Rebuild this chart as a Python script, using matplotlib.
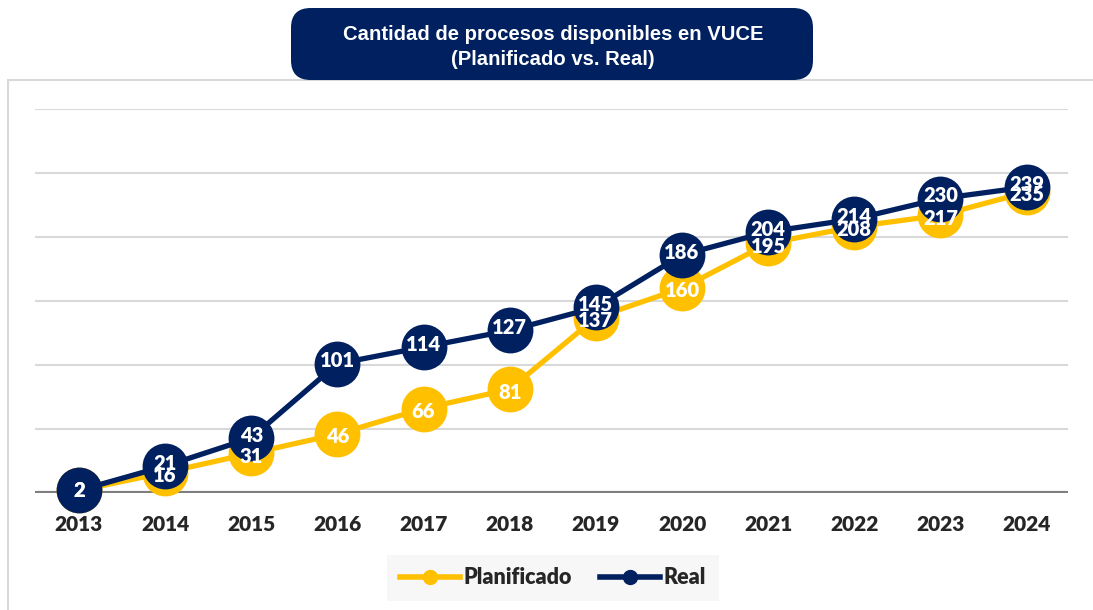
import matplotlib
matplotlib.use('Agg')
import matplotlib.pyplot as plt
from matplotlib.patches import FancyBboxPatch, Rectangle
from matplotlib.lines import Line2D

# ─── Data ────────────────────────────────────────────────────────────────
years = [2013, 2014, 2015, 2016, 2017, 2018, 2019, 2020, 2021, 2022, 2023, 2024]
planificado = [2, 16, 31, 46, 66, 81, 137, 160, 195, 208, 217, 235]
real = [2, 21, 43, 101, 114, 127, 145, 186, 204, 214, 230, 239]

# ─── Colors ──────────────────────────────────────────────────────────────
NAVY = '#002060'
GOLD = '#FFC000'
GRID = '#D9D9D9'
AXIS = '#7F7F7F'
TXT = '#262626'

plt.rcParams['font.family'] = ['Lato', 'DejaVu Sans']

fig = plt.figure(figsize=(10.93, 6.10), dpi=100)
fig.patch.set_facecolor('white')

# chart-area frame
fig.patches.append(Rectangle((8 / 1093, -0.05), 1.1, (610 - 80) / 610 + 0.05,
                             transform=fig.transFigure, facecolor='none',
                             edgecolor=GRID, linewidth=1.5, zorder=0))

# title box
tb = FancyBboxPatch((291 / 1093, (610 - 80) / 610), (813 - 291) / 1093, 72 / 610,
                    boxstyle="round,pad=0,rounding_size=0.018",
                    transform=fig.transFigure, facecolor=NAVY, edgecolor='none',
                    zorder=1, mutation_aspect=1.8)
fig.patches.append(tb)
fig.text(553 / 1093, (610 - 47) / 610,
         'Cantidad de procesos disponibles en VUCE\n(Planificado vs. Real)',
         ha='center', va='center', color='white', fontsize=14.6,
         fontweight='bold', family=['Liberation Sans', 'DejaVu Sans'],
         linespacing=1.35)

ax = fig.add_axes([35 / 1093, (610 - 493) / 610, (1068 - 35) / 1093, (493 - 109) / 610])
ax.set_facecolor('none')
ax.set_xlim(2012.49, 2024.48)
ax.set_ylim(0, 300)
ax.set_yticks(range(0, 301, 50))
ax.set_yticklabels([])
ax.tick_params(axis='y', length=0)
ax.grid(axis='y', color=GRID, linewidth=1.5)
ax.set_axisbelow(True)
for s in ax.spines.values():
    s.set_visible(False)
ax.axhline(0, color=AXIS, linewidth=3, zorder=1)

ax.plot(years, planificado, color=GOLD, linewidth=3.8, marker='o',
        markersize=33, markeredgewidth=0, zorder=3, clip_on=False)
ax.plot(years, real, color=NAVY, linewidth=3.8, marker='o',
        markersize=33, markeredgewidth=0, zorder=4, clip_on=False)

# data labels, nudged slightly apart where the two series differ
for x, p, r in zip(years, planificado, real):
    d = 2 if p != r else 0
    ax.annotate(str(p), (x, p), xytext=(0, -d), textcoords='offset points',
                ha='center', va='center', color='white',
                fontsize=14.5, fontweight='heavy', zorder=6)
    ax.annotate(str(r), (x, r), xytext=(0, d), textcoords='offset points',
                ha='center', va='center', color='white',
                fontsize=14.5, fontweight='heavy', zorder=6)

ax.set_xticks(years)
ax.set_xticklabels([str(y) for y in years], fontsize=15, fontweight='heavy', color=TXT)
ax.tick_params(axis='x', length=0, pad=16)

handles = [
    Line2D([0], [0], color=GOLD, linewidth=4, marker='o', markersize=10),
    Line2D([0], [0], color=NAVY, linewidth=4, marker='o', markersize=10),
]
leg = fig.legend(handles, ['Planificado', 'Real'], loc='center',
                 bbox_to_anchor=(553 / 1093, 32 / 610), ncol=2, frameon=True,
                 fancybox=False, facecolor='#F7F7F7', edgecolor='none',
                 framealpha=1, handlelength=2.8, handletextpad=0.15,
                 columnspacing=1.3, borderpad=0.6, borderaxespad=0,
                 prop={'size': 15.5, 'weight': 'heavy'})
for t in leg.get_texts():
    t.set_color(TXT)

fig.savefig('out.png', dpi=100)
